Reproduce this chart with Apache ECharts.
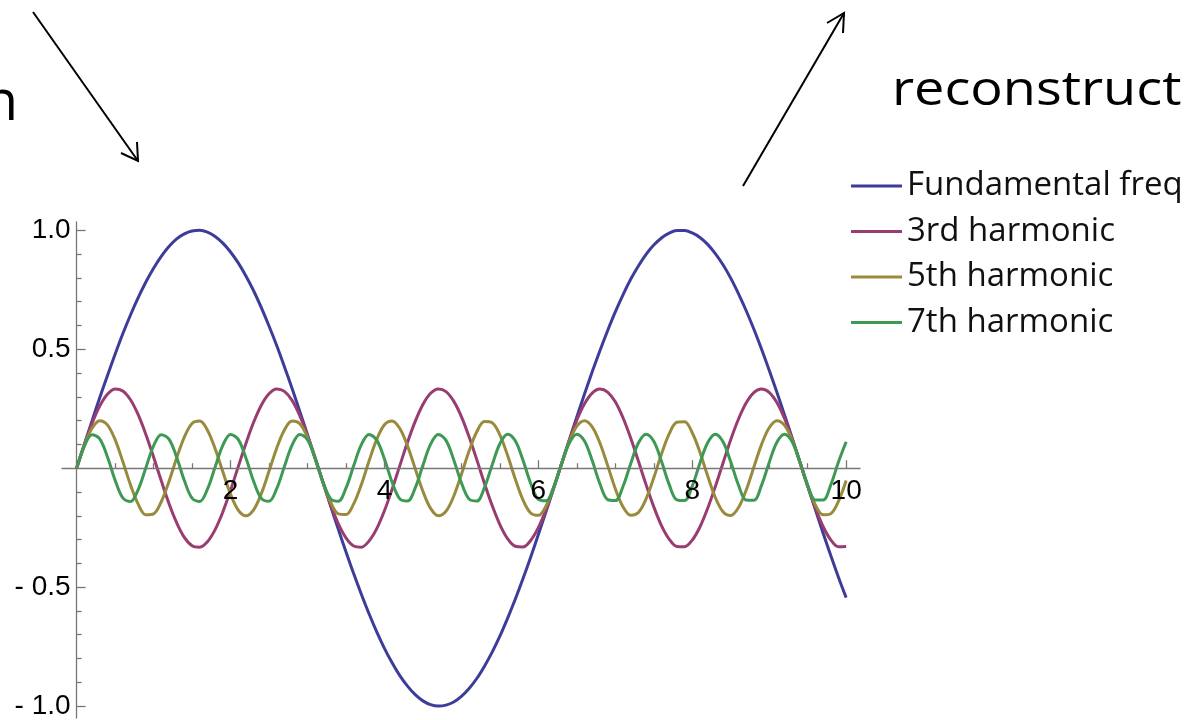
<!DOCTYPE html>
<html>
<head>
<meta charset="utf-8">
<script src="https://cdn.jsdelivr.net/npm/echarts@6/dist/echarts.min.js"></script>
<style>
  html, body { margin: 0; padding: 0; background: #ffffff; }
  #chart { width: 1193px; height: 720px; }
</style>
</head>
<body>
<div id="chart"></div>
<script>
// Sample positions along the horizontal axis (step 0.1 from 0 to 10)
const xValues = [
  0, 0.1, 0.2, 0.3, 0.4, 0.5, 0.6, 0.7, 0.8, 0.9,
  1, 1.1, 1.2, 1.3, 1.4, 1.5, 1.6, 1.7, 1.8, 1.9,
  2, 2.1, 2.2, 2.3, 2.4, 2.5, 2.6, 2.7, 2.8, 2.9,
  3, 3.1, 3.2, 3.3, 3.4, 3.5, 3.6, 3.7, 3.8, 3.9,
  4, 4.1, 4.2, 4.3, 4.4, 4.5, 4.6, 4.7, 4.8, 4.9,
  5, 5.1, 5.2, 5.3, 5.4, 5.5, 5.6, 5.7, 5.8, 5.9,
  6, 6.1, 6.2, 6.3, 6.4, 6.5, 6.6, 6.7, 6.8, 6.9,
  7, 7.1, 7.2, 7.3, 7.4, 7.5, 7.6, 7.7, 7.8, 7.9,
  8, 8.1, 8.2, 8.3, 8.4, 8.5, 8.6, 8.7, 8.8, 8.9,
  9, 9.1, 9.2, 9.3, 9.4, 9.5, 9.6, 9.7, 9.8, 9.9,
  10
];

// Fundamental frequency
const fundamental = [
  0, 0.100, 0.199, 0.296, 0.389, 0.479, 0.565, 0.644, 0.717, 0.783,
  0.841, 0.891, 0.932, 0.964, 0.985, 0.997, 1.000, 0.992, 0.974, 0.946,
  0.909, 0.863, 0.808, 0.746, 0.675, 0.598, 0.516, 0.427, 0.335, 0.239,
  0.141, 0.042, -0.058, -0.158, -0.256, -0.351, -0.443, -0.530, -0.612, -0.688,
  -0.757, -0.818, -0.872, -0.916, -0.952, -0.978, -0.994, -1.000, -0.996, -0.983,
  -0.959, -0.926, -0.884, -0.832, -0.773, -0.706, -0.631, -0.551, -0.465, -0.374,
  -0.279, -0.182, -0.083, 0.017, 0.117, 0.215, 0.312, 0.405, 0.494, 0.578,
  0.657, 0.729, 0.794, 0.850, 0.899, 0.938, 0.968, 0.988, 0.999, 0.999,
  0.989, 0.970, 0.941, 0.902, 0.855, 0.799, 0.734, 0.663, 0.585, 0.501,
  0.412, 0.319, 0.223, 0.125, 0.025, -0.075, -0.174, -0.272, -0.367, -0.458,
  -0.544
];

// 3rd harmonic
const harmonic3 = [
  0, 0.099, 0.188, 0.261, 0.311, 0.333, 0.325, 0.288, 0.225, 0.142,
  0.047, -0.053, -0.148, -0.229, -0.291, -0.326, -0.332, -0.309, -0.258, -0.184,
  -0.093, 0.006, 0.104, 0.193, 0.265, 0.313, 0.333, 0.323, 0.285, 0.221,
  0.137, 0.042, -0.058, -0.153, -0.233, -0.293, -0.327, -0.332, -0.306, -0.254,
  -0.179, -0.088, 0.011, 0.109, 0.197, 0.268, 0.315, 0.333, 0.322, 0.282,
  0.217, 0.132, 0.036, -0.064, -0.157, -0.237, -0.296, -0.328, -0.331, -0.304,
  -0.250, -0.174, -0.082, 0.017, 0.114, 0.202, 0.271, 0.316, 0.333, 0.320,
  0.279, 0.212, 0.127, 0.030, -0.069, -0.162, -0.241, -0.298, -0.329, -0.330,
  -0.302, -0.247, -0.169, -0.077, 0.022, 0.120, 0.206, 0.274, 0.318, 0.333,
  0.319, 0.276, 0.208, 0.122, 0.025, -0.075, -0.167, -0.245, -0.301, -0.330,
  -0.329
];

// 5th harmonic
const harmonic5 = [
  0, 0.096, 0.168, 0.200, 0.182, 0.120, 0.028, -0.070, -0.151, -0.196,
  -0.192, -0.141, -0.056, 0.043, 0.131, 0.188, 0.198, 0.160, 0.082, -0.015,
  -0.109, -0.176, -0.200, -0.175, -0.107, -0.013, 0.084, 0.161, 0.198, 0.187,
  0.130, 0.041, -0.058, -0.142, -0.192, -0.195, -0.150, -0.069, 0.030, 0.121,
  0.183, 0.199, 0.167, 0.094, -0.002, -0.097, -0.169, -0.200, -0.181, -0.118,
  -0.026, 0.072, 0.153, 0.196, 0.191, 0.140, 0.054, -0.045, -0.133, -0.188,
  -0.198, -0.159, -0.081, 0.017, 0.110, 0.177, 0.200, 0.174, 0.106, 0.012,
  -0.086, -0.162, -0.198, -0.186, -0.129, -0.040, 0.059, 0.144, 0.193, 0.195,
  0.149, 0.067, -0.032, -0.123, -0.183, -0.199, -0.166, -0.093, 0.004, 0.099,
  0.170, 0.200, 0.180, 0.117, 0.025, -0.073, -0.154, -0.196, -0.191, -0.139,
  -0.052
];

// 7th harmonic
const harmonic7 = [
  0, 0.092, 0.141, 0.123, 0.048, -0.050, -0.125, -0.140, -0.090, 0.002,
  0.094, 0.141, 0.122, 0.046, -0.052, -0.126, -0.140, -0.088, 0.005, 0.096,
  0.142, 0.121, 0.043, -0.055, -0.127, -0.139, -0.086, 0.007, 0.097, 0.142,
  0.120, 0.041, -0.057, -0.128, -0.139, -0.084, 0.010, 0.099, 0.142, 0.118,
  0.039, -0.059, -0.129, -0.138, -0.083, 0.012, 0.101, 0.142, 0.117, 0.036,
  -0.061, -0.130, -0.138, -0.081, 0.014, 0.103, 0.143, 0.115, 0.034, -0.063,
  -0.131, -0.137, -0.079, 0.017, 0.104, 0.143, 0.114, 0.032, -0.065, -0.132,
  -0.136, -0.077, 0.019, 0.106, 0.143, 0.113, 0.029, -0.068, -0.133, -0.136,
  -0.075, 0.022, 0.107, 0.143, 0.111, 0.027, -0.070, -0.134, -0.135, -0.072,
  0.024, 0.109, 0.143, 0.110, 0.025, -0.072, -0.134, -0.134, -0.070, 0.026,
  0.111
];

const seriesNames = ['Fundamental freq', '3rd harmonic', '5th harmonic', '7th harmonic'];
const seriesColors = ['#3d3d99', '#993d71', '#998b3d', '#3d9954'];

// Axis ticks and their labels
const xMajorTicks = [2, 4, 6, 8, 10];
const xTickLabels = ['2', '4', '6', '8', '10'];
const xMinorTicks = [0.5, 1, 1.5, 2.5, 3, 3.5, 4.5, 5, 5.5, 6.5, 7, 7.5, 8.5, 9, 9.5];
const yMajorTicks = [-1, -0.5, 0.5, 1];
const yTickLabels = ['- 1.0', '- 0.5', '0.5', '1.0'];
const yMinorTicks = [-0.9, -0.8, -0.7, -0.6, -0.4, -0.3, -0.2, -0.1,
                     0.1, 0.2, 0.3, 0.4, 0.6, 0.7, 0.8, 0.9];

const seriesValues = [fundamental, harmonic3, harmonic5, harmonic7];

const axisGray = '#777777';
const tickFont = { fontSize: 28, fontFamily: 'Liberation Sans', color: '#000000' };

// Plot area and axis extents
const gridBox = { left: 62, top: 222, width: 798, height: 496 };
const xRange = { min: -0.19, max: 10.18 };
const yRange = { min: -1.05, max: 1.035 };

// The two axes cross at the origin: shift each one from the grid edge to zero.
const xAxisShift = -(0 - yRange.min) / (yRange.max - yRange.min) * gridBox.height;
const yAxisShift = -(0 - xRange.min) / (xRange.max - xRange.min) * gridBox.width;

const chart = echarts.init(document.getElementById('chart'), null, { renderer: 'canvas' });

function xAxisDef(ticks, tickLen, withLine, withLabels) {
  return {
    type: 'value', min: xRange.min, max: xRange.max, position: 'bottom',
    offset: xAxisShift,
    z: withLabels ? 10 : 0,
    axisLine: { show: withLine, onZero: false, lineStyle: { color: axisGray, width: 1.3 } },
    axisTick: { show: true, inside: true, length: tickLen, customValues: ticks,
                lineStyle: { color: axisGray, width: 1.3 } },
    axisLabel: withLabels ? Object.assign({ show: true, margin: 9, customValues: xMajorTicks,
      formatter: function (v) { return xTickLabels[xMajorTicks.indexOf(v)]; } }, tickFont)
      : { show: false },
    splitLine: { show: false }
  };
}

function yAxisDef(ticks, tickLen, withLine, withLabels) {
  return {
    type: 'value', min: yRange.min, max: yRange.max, position: 'left',
    offset: yAxisShift,
    z: withLabels ? 10 : 0,
    axisLine: { show: withLine, onZero: false, lineStyle: { color: axisGray, width: 1.3 } },
    axisTick: { show: true, inside: true, length: tickLen, customValues: ticks,
                lineStyle: { color: axisGray, width: 1.3 } },
    axisLabel: withLabels ? Object.assign({ show: true, margin: 6, customValues: yMajorTicks,
      formatter: function (v) { return yTickLabels[yMajorTicks.indexOf(v)]; } }, tickFont)
      : { show: false },
    splitLine: { show: false }
  };
}

chart.setOption({
  animation: false,
  backgroundColor: '#ffffff',
  grid: Object.assign({ containLabel: false, outerBoundsMode: 'none' }, gridBox),
  xAxis: [
    xAxisDef(xMajorTicks, 8, true, true),
    xAxisDef(xMinorTicks, 5, false, false)
  ],
  yAxis: [
    yAxisDef(yMajorTicks, 9, true, true),
    yAxisDef(yMinorTicks, 5, false, false)
  ],
  legend: {
    orient: 'vertical',
    left: 846,
    top: 163,
    itemWidth: 51,
    itemHeight: 3,
    itemGap: 9.5,
    icon: 'rect',
    data: seriesNames,
    textStyle: { fontSize: 33, fontFamily: 'Open Sans', color: '#111111', lineHeight: 36 }
  },
  series: seriesNames.map(function (name, i) {
    return {
      name: name,
      type: 'line',
      xAxisIndex: 0,
      yAxisIndex: 0,
      showSymbol: false,
      symbol: 'none',
      smooth: 0.35,
      color: seriesColors[i],
      lineStyle: { color: seriesColors[i], width: 3 },
      data: xValues.map(function (x, k) { return [x, seriesValues[i][k]]; }),
      z: 2 + i
    };
  }),
  graphic: [
    // Word fragments around the chart
    {
      type: 'text', x: 18, y: 104,
      style: { text: 'n', font: '56px "Open Sans"', fill: '#000000',
               textAlign: 'right', textVerticalAlign: 'middle' }
    },
    {
      type: 'text', x: 892, y: 91.5, scaleX: 1.15,
      style: { text: 'reconstruct', font: '47px "Open Sans"', fill: '#000000',
               textAlign: 'left', textVerticalAlign: 'middle' }
    },
    // Arrow pointing down into the chart
    {
      type: 'polyline',
      shape: { points: [[33, 12], [138, 161]] },
      style: { stroke: '#000000', lineWidth: 2, fill: null }
    },
    {
      type: 'polyline',
      shape: { points: [[121, 153], [138, 161], [137, 142]] },
      style: { stroke: '#000000', lineWidth: 2, fill: null }
    },
    // Arrow pointing up out of the chart
    {
      type: 'polyline',
      shape: { points: [[743, 186], [844, 13]] },
      style: { stroke: '#000000', lineWidth: 2, fill: null }
    },
    {
      type: 'polyline',
      shape: { points: [[827, 23], [844, 13], [843, 33]] },
      style: { stroke: '#000000', lineWidth: 2, fill: null }
    }
  ]
});
</script>
</body>
</html>
